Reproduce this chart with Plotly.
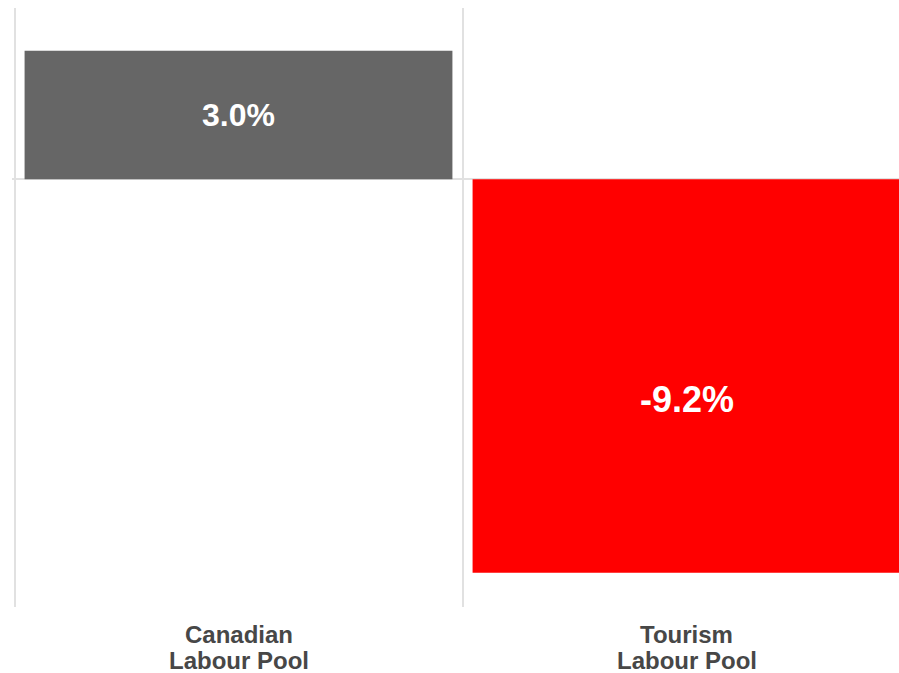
import plotly.graph_objects as go

# Year-over-year change in labour pool size
categories = [["Canadian", "Labour Pool"], ["Tourism", "Labour Pool"]]
changes = [3.0, -9.2]
labels = ["3.0%", "-9.2%"]
colors = ["#666666", "#ff0000"]

positions = list(range(len(categories)))
FONT = "Liberation Sans, Arial, sans-serif"

fig = go.Figure(
    go.Bar(
        x=positions,
        y=changes,
        width=0.955,
        marker=dict(color=colors, line=dict(width=0)),
        textposition="none",
        hoverinfo="skip",
    )
)

# value labels inside each bar
label_sizes = [32, 36]
label_shift = [0, -24]
for xi, v, t, s, dy in zip(positions, changes, labels, label_sizes, label_shift):
    fig.add_annotation(
        x=xi, y=v / 2, xref="x", yref="y", text=f"<b>{t}</b>",
        showarrow=False, yshift=dy,
        font=dict(family=FONT, size=s, color="white"),
    )

# two-line category labels under the axis
for xi, lines in zip(positions, categories):
    for k, line in enumerate(lines):
        fig.add_annotation(
            x=xi, y=0, xref="x", yref="paper", text=f"<b>{line}</b>",
            showarrow=False, yanchor="middle", yshift=-27.5 - 25.5 * k,
            font=dict(family=FONT, size=24, color="#474747"),
        )

grid = "#e1e1e1"
x0 = -0.5 - 2.5 / 448

fig.update_layout(
    width=899,
    height=673,
    margin=dict(l=12, r=0, t=8, b=66),
    paper_bgcolor="white",
    plot_bgcolor="white",
    showlegend=False,
    xaxis=dict(
        range=[x0, x0 + 887 / 448],
        tickvals=positions,
        showticklabels=False,
        showgrid=False,
        zeroline=False,
        showline=False,
        ticks="",
        minor=dict(tickvals=[-0.5, 0.5], showgrid=True, gridcolor=grid, gridwidth=2, ticks=""),
    ),
    yaxis=dict(
        range=[-10, 4],
        showgrid=False,
        showticklabels=False,
        zeroline=True,
        zerolinecolor=grid,
        zerolinewidth=2,
        showline=False,
        ticks="",
    ),
)

fig.write_html("out.html")
